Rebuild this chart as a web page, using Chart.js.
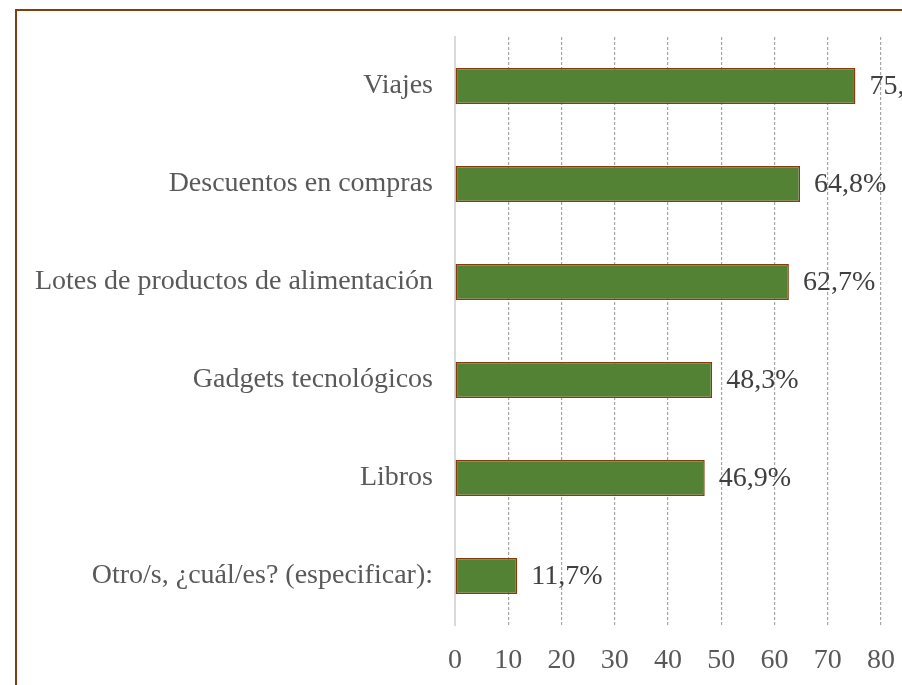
<!DOCTYPE html>
<html>
<head>
<meta charset="utf-8">
<script src="https://cdn.jsdelivr.net/npm/chart.js@4.4.1/dist/chart.umd.min.js"></script>
<style>
  html, body { margin: 0; padding: 0; background: #ffffff; overflow: hidden; width: 902px; height: 685px; }
  #frame { position: absolute; left: 15px; top: 9px; width: 1000px; height: 700px; border: 2px solid #843c0c; background: #fff; }
  #wrap { position: absolute; left: 0; top: 0; width: 1000px; height: 700px; }
</style>
</head>
<body>
<div id="frame"><div id="wrap"><canvas id="c" width="1000" height="700"></canvas></div></div>
<script>
const categories = [
  "Viajes",
  "Descuentos en compras",
  "Lotes de productos de alimentación",
  "Gadgets tecnológicos",
  "Libros",
  "Otro/s, ¿cuál/es? (especificar):"
];
const values = [75.2, 64.8, 62.7, 48.3, 46.9, 11.7];
const tickMin = 0, tickMax = 80, tickStep = 10;

const FONT = "'Liberation Serif', 'Times New Roman', serif";

const valueLabels = {
  id: 'valueLabels',
  afterDatasetsDraw(chart) {
    const ctx = chart.ctx;
    const meta = chart.getDatasetMeta(0);
    ctx.save();
    ctx.font = "28px " + FONT;
    ctx.fillStyle = '#404040';
    ctx.textAlign = 'left';
    ctx.textBaseline = 'middle';
    meta.data.forEach((bar, i) => {
      const txt = values[i].toFixed(1).replace('.', ',') + '%';
      ctx.fillText(txt, bar.x + 14, bar.y + 1);
    });
    ctx.restore();
  }
};

new Chart(document.getElementById('c'), {
  type: 'bar',
  data: {
    labels: categories,
    datasets: [{
      data: values,
      backgroundColor: '#548235',
      borderColor: '#843c0c',
      borderWidth: 1.5,
      borderSkipped: false,
      categoryPercentage: 1.0,
      barPercentage: 0.367
    }]
  },
  options: {
    indexAxis: 'y',
    responsive: false,
    animation: false,
    devicePixelRatio: 1,
    layout: { padding: { top: 26, right: 136, bottom: 0, left: 0 } },
    plugins: { legend: { display: false }, tooltip: { enabled: false } },
    scales: {
      x: {
        min: tickMin, max: tickMax,
        ticks: { stepSize: tickStep, color: '#595959', font: { family: FONT, size: 28 }, padding: 19 },
        grid: {
          drawTicks: false,
          color: (c) => c.index === 0 ? 'rgba(0,0,0,0)' : '#a6a6a6',
          lineWidth: 1.2
        },
        border: { display: false, dash: [3, 2] },
        afterFit(scale) { scale.height = 86; scale.paddingLeft = 0; scale.paddingRight = 0; }
      },
      y: {
        ticks: { color: '#595959', font: { family: FONT, size: 28 }, padding: 22 },
        grid: { display: false, drawTicks: false },
        border: { display: true, color: '#d9d9d9', width: 2 },
        afterFit(scale) { scale.width = 438; scale.paddingTop = 0; scale.paddingBottom = 0; }
      }
    }
  },
  plugins: [valueLabels]
});
</script>
</body>
</html>
